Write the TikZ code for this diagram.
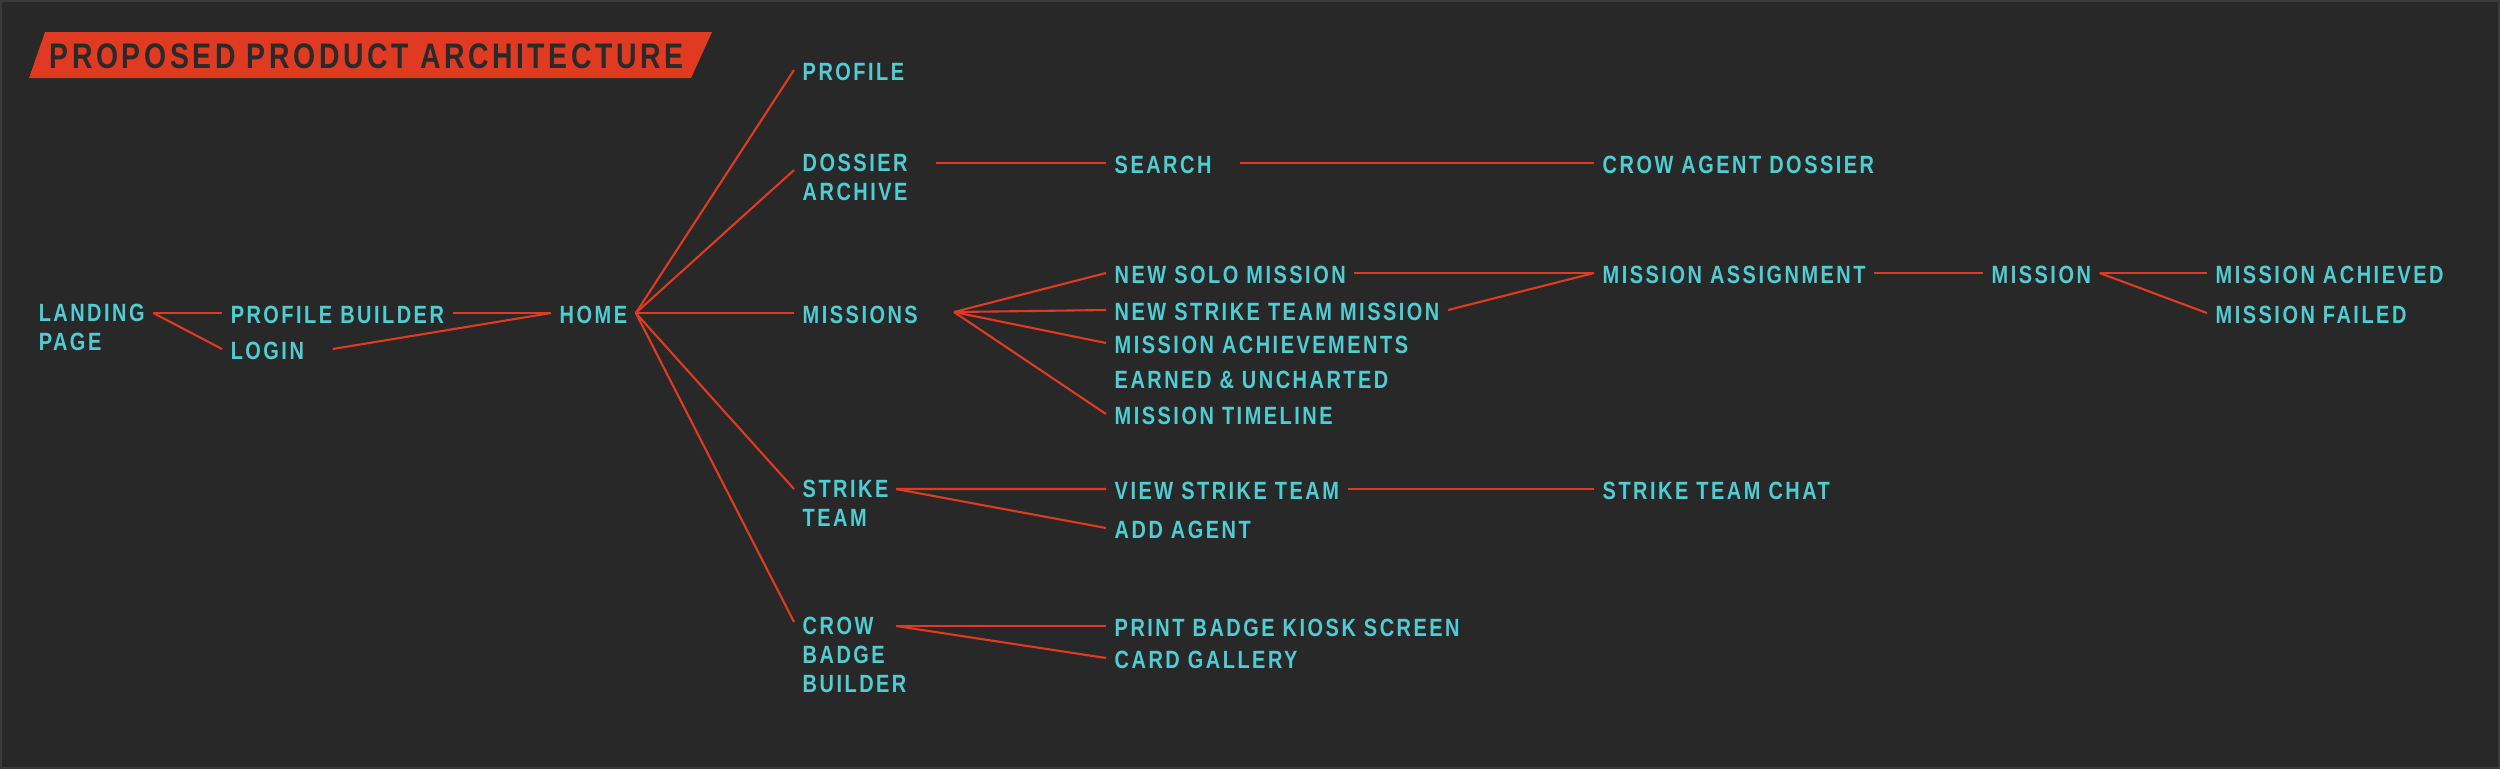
\documentclass[tikz,border=0pt]{standalone}
\usepackage{fontspec}
\setmainfont{Liberation Sans}[FakeStretch=0.8,LetterSpace=10]
\definecolor{bg}{HTML}{282828}
\definecolor{framegray}{HTML}{3A3A3A}
\definecolor{cyanlbl}{HTML}{4FCDD2}
\definecolor{redline}{HTML}{E03A22}
\definecolor{darktxt}{HTML}{2A2A2A}

\begin{document}
\begin{tikzpicture}[
  lbl/.style={font=\bfseries\fontsize{7.1}{8.25}\selectfont, text=cyanlbl, inner xsep=0.08cm, inner ysep=0pt, text height=0.2cm, text depth=0pt, anchor=base west},
  multi/.style={font=\bfseries\fontsize{7.1}{8.25}\selectfont, text=cyanlbl, inner xsep=0.08cm, inner ysep=0pt, align=left, anchor=north west},
  link/.style={redline, line width=0.6pt}]

\fill[bg] (0,0) rectangle (25,-7.69);
\draw[framegray, line width=0.6pt] (0.01,-0.01) rectangle (24.99,-7.68);
\useasboundingbox (0,0) rectangle (25,-7.69);

\fill[redline] (0.45,-0.32) -- (7.12,-0.32) -- (6.91,-0.78) -- (0.29,-0.78) -- cycle;
\node[anchor=base west, inner sep=0pt, font=\bfseries\fontsize{10.1}{12}\selectfont, text=darktxt] (title) at (0.49,-0.685) {PROPOSED PRODUCT ARCHITECTURE};

\node[multi] (landing) at (0.30,-3.03) {LANDING\\PAGE};
\node[lbl] (profilebuilder) at (2.22,-3.23) {PROFILE BUILDER};
\node[lbl] (login) at (2.22,-3.59) {LOGIN};
\node[lbl] (home) at (5.51,-3.23) {HOME};

\node[lbl] (profile) at (7.94,-0.80) {PROFILE};
\node[multi] (dossier) at (7.94,-1.53) {DOSSIER\\ARCHIVE};
\node[lbl] (missions) at (7.94,-3.23) {MISSIONS};
\node[multi] (strike) at (7.94,-4.79) {STRIKE\\TEAM};
\node[multi] (crow) at (7.94,-6.16) {CROW\\BADGE\\BUILDER};

\node[lbl] (search) at (11.06,-1.73) {SEARCH};
\node[lbl] (newsolo) at (11.06,-2.83) {NEW SOLO MISSION};
\node[lbl] (newstrike) at (11.06,-3.20) {NEW STRIKE TEAM MISSION};
\node[lbl] (achievements) at (11.06,-3.53) {MISSION ACHIEVEMENTS};
\node[lbl] (earned) at (11.06,-3.88) {EARNED \& UNCHARTED};
\node[lbl] (timeline) at (11.06,-4.24) {MISSION TIMELINE};
\node[lbl] (viewteam) at (11.06,-4.99) {VIEW STRIKE TEAM};
\node[lbl] (addagent) at (11.06,-5.38) {ADD AGENT};
\node[lbl] (printbadge) at (11.06,-6.36) {PRINT BADGE KIOSK SCREEN};
\node[lbl] (gallery) at (11.06,-6.68) {CARD GALLERY};

\node[lbl] (crowdossier) at (15.94,-1.73) {CROW AGENT DOSSIER};
\node[lbl] (assignment) at (15.94,-2.83) {MISSION ASSIGNMENT};
\node[lbl] (chat) at (15.94,-4.99) {STRIKE TEAM CHAT};
\node[lbl] (mission) at (19.83,-2.83) {MISSION};
\node[lbl] (achieved) at (22.07,-2.83) {MISSION ACHIEVED};
\node[lbl] (failed) at (22.07,-3.23) {MISSION FAILED};

\coordinate (landhub) at (landing.north east |- profilebuilder.west);
\coordinate (misshub) at (9.54,-3.12);
\coordinate (strikehub) at (8.96,-4.89);
\coordinate (crowhub) at (strikehub |- printbadge.west);

\draw[link] (landhub) -- (profilebuilder.west);
\draw[link] (landhub) -- (login.west);
\draw[link] (profilebuilder.east) -- (home.west);
\draw[link] ([xshift=0.2cm]login.east) -- (home.west);

\draw[link] (home.east) -- (profile.west);
\draw[link] (home.east) -- ([yshift=-0.17cm]dossier.north west);
\draw[link] (home.east) -- (missions.west);
\draw[link] (home.east) -- ([yshift=-0.1cm]strike.north west);
\draw[link] (home.east) -- ([yshift=-0.06cm]crow.north west);

\draw[link] ([xshift=0.2cm]dossier.north east |- search.west) -- (search.west);
\draw[link] ([xshift=0.2cm]search.east) -- (crowdossier.west);

\foreach \n in {newsolo,newstrike,achievements,timeline}
  \draw[link] (misshub) -- (\n.west);
\draw[link] (newsolo.east) -- (assignment.west);
\draw[link] (newstrike.east) -- (assignment.west);
\draw[link] (assignment.east) -- (mission.west);
\draw[link] (mission.east) -- (achieved.west);
\draw[link] (mission.east) -- (failed.west);

\draw[link] (strikehub) -- (viewteam.west);
\draw[link] (strikehub) -- (addagent.west);
\draw[link] (viewteam.east) -- (chat.west);

\draw[link] (crowhub) -- (printbadge.west);
\draw[link] (crowhub) -- (gallery.west);
\end{tikzpicture}
\end{document}
